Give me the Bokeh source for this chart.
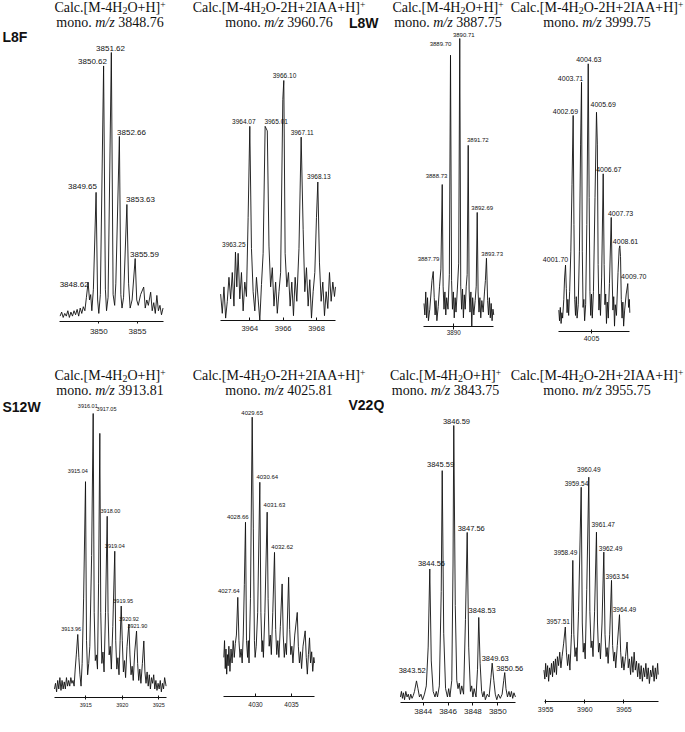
from bokeh.plotting import figure
from bokeh.layouts import column, row
from bokeh.models import Div, Range1d, FixedTicker
from bokeh.core.properties import value
from bokeh.embed import file_html
from bokeh.resources import INLINE

# ======================= DATA =======================
row_labels = ["L8F", "L8W", "S12W", "V22Q"]
ion_4h2o = "[M-4H2O+H]+"
ion_2iaa = "[M-4H2O-2H+2IAA+H]+"
title_ions = [ion_4h2o, ion_2iaa, ion_4h2o, ion_2iaa, ion_4h2o, ion_2iaa, ion_4h2o, ion_2iaa]
title_mono = ["3848.76", "3960.76", "3887.75", "3999.75", "3913.81", "4025.81", "3843.75", "3955.75"]

# --- Panel 1: L8F [M-4H2O+H]+ ---
p1_mz = [3845.0, 3845.2, 3845.4, 3845.6, 3845.8, 3846.0, 3846.2, 3846.4, 3846.6, 3846.8,
         3847.0, 3847.2, 3847.4, 3847.6, 3847.8, 3848.0, 3848.2, 3848.4, 3848.62, 3848.8,
         3848.95, 3849.1, 3849.3, 3849.65, 3849.85, 3850.0, 3850.2, 3850.62, 3850.85, 3851.0,
         3851.2, 3851.62, 3851.85, 3852.05, 3852.2, 3852.66, 3852.85, 3853.0, 3853.2, 3853.63,
         3853.85, 3854.05, 3854.3, 3854.7, 3854.9, 3855.1, 3855.4, 3855.8, 3856.0, 3856.2,
         3856.4, 3856.7, 3856.9, 3857.1, 3857.3, 3857.5, 3857.7, 3857.9, 3858.1, 3858.3]
p1_int = [2, 3.5, 1.5, 3, 2, 4, 1.5, 3.5, 2, 4,
          2.5, 4.5, 2, 5, 3, 5.5, 4, 9, 14.6, 8,
          10, 4, 12, 48, 8, 3, 10, 95, 12, 4,
          9, 100, 10, 6, 14, 68.8, 10, 5, 9, 43.5,
          14, 5, 8, 23.4, 8, 6, 10, 12.8, 5, 8,
          6, 10.9, 4, 7, 3, 9.7, 4, 6, 2.5, 5]
p1_peak_mz = [3848.62, 3849.65, 3850.62, 3851.62, 3852.66, 3853.63, 3854.7]
p1_peak_int = [14.6, 48, 95, 100, 68.8, 43.5, 23.4]
p1_peak_label = ["3848.62", "3849.65", "3850.62", "3851.62", "3852.66", "3853.63", "3855.59"]
p1_ticks = [3850, 3855]

# --- Panel 2: L8F [M-4H2O-2H+2IAA+H]+ ---
p2_mz = [3962.25, 3962.35, 3962.45, 3962.55, 3962.65, 3962.75, 3962.85, 3962.95, 3963.05, 3963.14,
         3963.22, 3963.3, 3963.4, 3963.5, 3963.6, 3963.7, 3963.8, 3963.9, 3964.0, 3964.1,
         3964.2, 3964.3, 3964.4, 3964.5, 3964.6, 3964.7, 3964.8, 3964.92, 3965.05, 3965.15,
         3965.25, 3965.35, 3965.45, 3965.55, 3965.65, 3965.75, 3965.85, 3965.98, 3966.04, 3966.12,
         3966.22, 3966.32, 3966.42, 3966.52, 3966.62, 3966.72, 3966.82, 3966.95, 3967.08, 3967.2,
         3967.3, 3967.4, 3967.5, 3967.6, 3967.7, 3967.8, 3967.9, 3968.0, 3968.08, 3968.18,
         3968.28, 3968.38, 3968.48, 3968.58, 3968.68, 3968.78, 3968.88, 3968.98, 3969.08, 3969.14]
p2_int = [11, 3, 14, 1, 8, 18, 9, 20, 6, 28.5,
          14, 28, 9, 20, 4, 16, 10, 43, 80.9, 30,
          12, 4, 18, 9, 0, 15, 28, 80.9, 79, 31,
          14, 22, 6, 16, 3, 12, 20, 92, 100, 28,
          14, 20, 6, 16, 2, 18, 8, 30, 76.4, 38,
          12, 22, 6, 17, 1, 12, 20, 43, 57.7, 24,
          8, 16, 2, 12, 5, 20, 8, 16, 10, 14]
p2_peak_mz = [3963.14, 3964.0, 3964.92, 3966.04, 3967.08, 3968.08]
p2_peak_int = [28.5, 80.9, 80.9, 100, 76.4, 57.7]
p2_peak_label = ["3963.25", "3964.07", "3965.01", "3966.10", "3967.11", "3968.13"]
p2_ticks = [3964, 3966, 3968]

# --- Panel 3: L8W [M-4H2O+H]+ ---
p3_mz = [3886.65, 3886.75, 3886.85, 3886.95, 3887.05, 3887.15, 3887.3, 3887.45, 3887.55, 3887.69,
         3887.8, 3887.9, 3888.0, 3888.1, 3888.25, 3888.4, 3888.55, 3888.70, 3888.8, 3888.9,
         3889.0, 3889.1, 3889.2, 3889.35, 3889.5, 3889.63, 3889.75, 3889.85, 3889.95, 3890.05,
         3890.15, 3890.25, 3890.4, 3890.55, 3890.67, 3890.78, 3890.88, 3890.98, 3891.08, 3891.18,
         3891.28, 3891.4, 3891.5, 3891.62, 3891.72, 3891.82, 3891.92, 3892.02, 3892.12, 3892.25,
         3892.4, 3892.52, 3892.63, 3892.73, 3892.83, 3892.93, 3893.03, 3893.15, 3893.3, 3893.45,
         3893.55, 3893.67, 3893.8, 3893.9, 3894.0, 3894.1, 3894.2, 3894.3, 3894.4, 3894.49]
p3_int = [8, 4, 12, 3, 10, 2, 6, 12, 16, 19.1,
          10, 4, 9, 2, 7, 14, 20, 49.3, 14, 6,
          12, 4, 10, 6, 18, 94.2, 16, 6, 12, 3,
          10, 5, 13, 22, 100, 14, 6, 13, 3, 11,
          6, 14, 18, 62.9, 13, 5, 12, 0, 10, 4,
          9, 14, 39.6, 12, 5, 10, 3, 9, 5, 12,
          16, 23.7, 9, 4, 10, 3, 8, 2, 6, 4]
p3_peak_mz = [3887.69, 3888.70, 3889.63, 3890.67, 3891.62, 3892.63, 3893.67]
p3_peak_int = [19.1, 49.3, 94.2, 100, 62.9, 39.6, 23.7]
p3_peak_label = ["3887.79", "3888.73", "3889.70", "3890.71", "3891.72", "3892.69", "3893.73"]
p3_ticks = [3890]

# --- Panel 4: L8W [M-4H2O-2H+2IAA+H]+ ---
p4_mz = [4000.81, 4000.9, 4001.0, 4001.1, 4001.2, 4001.3, 4001.45, 4001.55, 4001.67, 4001.77,
         4001.87, 4001.97, 4002.07, 4002.2, 4002.35, 4002.5, 4002.65, 4002.75, 4002.85, 4002.95,
         4003.05, 4003.15, 4003.3, 4003.45, 4003.6, 4003.72, 4003.82, 4003.92, 4004.02, 4004.12,
         4004.25, 4004.4, 4004.58, 4004.7, 4004.8, 4004.9, 4005.0, 4005.1, 4005.25, 4005.45,
         4005.64, 4005.75, 4005.85, 4005.95, 4006.05, 4006.15, 4006.3, 4006.5, 4006.62, 4006.72,
         4006.82, 4006.92, 4007.02, 4007.15, 4007.3, 4007.53, 4007.65, 4007.75, 4007.85, 4007.95,
         4008.05, 4008.2, 4008.4, 4008.55, 4008.63, 4008.72, 4008.82, 4008.92, 4009.02, 4009.12,
         4009.25, 4009.45, 4009.65, 4009.75, 4009.85, 4009.91]
p4_int = [8, 4, 9, 3, 7, 5, 12, 20, 24.8, 16,
          7, 12, 6, 15, 30, 55, 80.7, 40, 12, 6,
          13, 5, 10, 30, 70, 93.1, 30, 9, 12, 4,
          10, 40, 100, 50, 15, 6, 14, 5, 15, 50,
          81.9, 70, 25, 8, 14, 6, 20, 58.9, 25, 10,
          14, 3, 11, 5, 18, 42.6, 20, 8, 13, 2,
          10, 6, 22, 31, 32, 28, 12, 5, 11, 2,
          8, 14, 17.9, 9, 12, 7]
p4_peak_mz = [4001.67, 4002.65, 4003.72, 4004.58, 4005.64, 4006.5, 4007.53, 4008.63, 4009.65]
p4_peak_int = [24.8, 80.7, 93.1, 100, 81.9, 58.9, 42.6, 32, 17.9]
p4_peak_label = ["4001.70", "4002.69", "4003.71", "4004.63", "4005.69", "4006.67", "4007.73", "4008.61", "4009.70"]
p4_ticks = [4005]

# --- Panel 5: S12W [M-4H2O+H]+ ---
p5_mz = [3910.71, 3910.85, 3911.0, 3911.15, 3911.3, 3911.45, 3911.6, 3911.75, 3911.9, 3912.05,
         3912.2, 3912.35, 3912.5, 3912.65, 3912.8, 3912.95, 3913.1, 3913.25, 3913.4, 3913.55,
         3913.7, 3913.9, 3914.05, 3914.2, 3914.35, 3914.5, 3914.7, 3914.96, 3915.1, 3915.25,
         3915.4, 3915.55, 3915.8, 3916.01, 3916.15, 3916.3, 3916.45, 3916.6, 3916.75, 3916.92,
         3917.05, 3917.2, 3917.35, 3917.5, 3917.7, 3917.93, 3918.05, 3918.2, 3918.35, 3918.5,
         3918.7, 3918.97, 3919.1, 3919.25, 3919.4, 3919.55, 3919.7, 3919.85, 3920.0, 3920.15,
         3920.3, 3920.45, 3920.65, 3920.9, 3921.05, 3921.2, 3921.35, 3921.5, 3921.7, 3921.95,
         3922.1, 3922.25, 3922.4, 3922.55, 3922.75, 3922.95, 3923.1, 3923.25, 3923.4, 3923.55,
         3923.7, 3923.85, 3924.0, 3924.15, 3924.3, 3924.45, 3924.6, 3924.75, 3924.9, 3925.05,
         3925.2, 3925.35, 3925.5, 3925.65, 3925.8, 3926.0]
p5_int = [3, 5, 2, 6, 3, 7, 2.5, 6, 3, 5.5,
          3, 7, 4, 6, 4, 7, 5, 6, 4, 10,
          15, 22.2, 14, 8, 4, 12, 35, 76, 20, 8,
          12, 18, 50, 100, 30, 13, 15, 10, 40, 93,
          30, 12, 16, 9, 30, 63.8, 30, 15, 18, 10,
          25, 51.5, 20, 10, 14, 8, 20, 32.2, 20, 9,
          13, 7, 18, 25.8, 15, 8, 11, 6, 16, 23.4,
          12, 6, 10, 5, 12, 19.9, 9, 5, 9, 4,
          8, 3, 7, 5, 8, 3, 6, 2.5, 5, 3,
          6, 2, 5, 3, 7, 4]
p5_peak_mz = [3913.9, 3914.96, 3916.01, 3916.92, 3917.93, 3918.97, 3919.85, 3920.9, 3921.95]
p5_peak_int = [22.2, 76, 100, 93, 63.8, 51.5, 32.2, 25.8, 23.4]
p5_peak_label = ["3913.96", "3915.04", "3916.01", "3917.05", "3918.00", "3919.04", "3919.95", "3920.92", "3921.90"]
p5_ticks = [3915, 3920, 3925]

# --- Panel 6: S12W [M-4H2O-2H+2IAA+H]+ ---
p6_mz = [4025.6, 4025.7, 4025.8, 4025.9, 4026.0, 4026.1, 4026.2, 4026.3, 4026.45, 4026.6,
         4026.75, 4026.9, 4027.05, 4027.2, 4027.35, 4027.54, 4027.7, 4027.85, 4028.0, 4028.15,
         4028.3, 4028.45, 4028.61, 4028.75, 4028.9, 4029.0, 4029.1, 4029.3, 4029.54, 4029.7,
         4029.85, 4029.95, 4030.1, 4030.3, 4030.6, 4030.75, 4030.9, 4031.0, 4031.1, 4031.3,
         4031.62, 4031.75, 4031.9, 4032.05, 4032.2, 4032.4, 4032.64, 4032.8, 4032.95, 4033.1,
         4033.25, 4033.45, 4033.7, 4033.85, 4034.0, 4034.15, 4034.3, 4034.6, 4034.75, 4034.9,
         4035.05, 4035.2, 4035.45, 4035.8, 4035.95, 4036.1, 4036.25, 4036.4, 4036.6, 4036.9,
         4037.05, 4037.2, 4037.35, 4037.5, 4037.65, 4037.8, 4037.95, 4038.1, 4038.2]
p6_int = [14, 20, 10, 17, 8, 15, 11, 18, 9, 17,
          12, 20, 14, 19, 22, 35.5, 20, 14, 17, 12,
          22, 40, 62.4, 20, 14, 20, 12, 35, 100, 60,
          20, 14, 18, 30, 76.7, 30, 16, 20, 14, 30,
          66, 35, 18, 22, 15, 30, 51.6, 24, 15, 20,
          14, 25, 40.3, 22, 14, 19, 15, 42.7, 24, 15,
          18, 12, 22, 30.1, 18, 12, 16, 10, 18, 23.5,
          14, 8, 15, 21, 12, 16, 9, 14, 12]
p6_peak_mz = [4027.54, 4028.61, 4029.54, 4030.6, 4031.62, 4032.64]
p6_peak_int = [35.5, 62.4, 100, 76.7, 66, 51.6]
p6_peak_label = ["4027.64", "4028.66", "4029.65", "4030.64", "4031.63", "4032.62"]
p6_ticks = [4030, 4035]

# --- Panel 7: V22Q [M-4H2O+H]+ ---
p7_mz = [3842.17, 3842.25, 3842.33, 3842.41, 3842.5, 3842.6, 3842.7, 3842.8, 3842.9, 3843.0,
         3843.1, 3843.2, 3843.3, 3843.46, 3843.58, 3843.7, 3843.82, 3843.95, 3844.1, 3844.25,
         3844.4, 3844.53, 3844.65, 3844.8, 3844.95, 3845.05, 3845.15, 3845.3, 3845.45, 3845.53,
         3845.65, 3845.8, 3845.95, 3846.05, 3846.15, 3846.3, 3846.4, 3846.46, 3846.58, 3846.7,
         3846.8, 3846.9, 3847.0, 3847.1, 3847.25, 3847.4, 3847.54, 3847.66, 3847.8, 3847.9,
         3848.0, 3848.1, 3848.25, 3848.37, 3848.47, 3848.58, 3848.7, 3848.8, 3848.9, 3849.0,
         3849.15, 3849.3, 3849.45, 3849.55, 3849.68, 3849.8, 3849.92, 3850.05, 3850.2, 3850.35,
         3850.48, 3850.56, 3850.66, 3850.78, 3850.9, 3851.0, 3851.1, 3851.2, 3851.3, 3851.42]
p7_int = [2, 4, 1.5, 3.5, 1, 4, 2, 3, 1, 3,
          1.5, 2.5, 4, 7.8, 5, 2, 3, 1, 3, 6,
          20, 48.2, 15, 4, 2, 4, 2, 6, 40, 83.7,
          25, 5, 2, 5, 2, 8, 50, 100, 35, 8,
          5, 7, 3, 6, 3, 30, 61.4, 20, 4, 6,
          2, 5, 2, 12, 30.7, 14, 4, 2, 4, 1,
          3, 2, 9, 14.2, 8, 3, 1, 3, 1.5, 3,
          8, 10.8, 5, 2, 4, 2, 4, 1.5, 3.5, 2]
p7_peak_mz = [3843.46, 3844.53, 3845.53, 3846.46, 3847.54, 3848.47, 3849.55, 3850.56]
p7_peak_int = [7.8, 48.2, 83.7, 100, 61.4, 30.7, 14.2, 10.8]
p7_peak_label = ["3843.52", "3844.56", "3845.59", "3846.59", "3847.56", "3848.53", "3849.63", "3850.56"]
p7_ticks = [3844, 3846, 3848, 3850]

# --- Panel 8: V22Q [M-4H2O-2H+2IAA+H]+ ---
p8_mz = [3954.78, 3954.9, 3955.0, 3955.12, 3955.25, 3955.38, 3955.5, 3955.62, 3955.75, 3955.88,
         3956.0, 3956.12, 3956.25, 3956.38, 3956.5, 3956.65, 3956.8, 3956.95, 3957.1, 3957.3,
         3957.51, 3957.65, 3957.8, 3957.95, 3958.1, 3958.3, 3958.47, 3958.6, 3958.75, 3958.9,
         3959.0, 3959.2, 3959.54, 3959.68, 3959.8, 3959.92, 3960.05, 3960.25, 3960.51, 3960.65,
         3960.8, 3960.92, 3961.05, 3961.25, 3961.49, 3961.62, 3961.75, 3961.88, 3962.0, 3962.2,
         3962.43, 3962.58, 3962.72, 3962.85, 3962.98, 3963.18, 3963.41, 3963.55, 3963.7, 3963.82,
         3963.95, 3964.15, 3964.43, 3964.58, 3964.72, 3964.85, 3965.0, 3965.2, 3965.4, 3965.55,
         3965.7, 3965.85, 3966.0, 3966.15, 3966.3, 3966.45, 3966.6, 3966.75, 3966.9, 3967.05,
         3967.2, 3967.35, 3967.5, 3967.65, 3967.8, 3967.95, 3968.1, 3968.25, 3968.4, 3968.55,
         3968.7, 3968.85, 3969.0, 3969.15, 3969.3, 3969.38]
p8_int = [14, 10, 17, 11, 16, 9, 15, 12, 17, 11,
          18, 13, 19, 12, 20, 16, 22, 15, 20, 26,
          33.2, 22, 16, 21, 14, 30, 62.9, 30, 20, 24,
          18, 40, 95.5, 35, 22, 26, 19, 50, 100, 40,
          24, 27, 20, 40, 75.5, 35, 22, 26, 19, 35,
          66.6, 30, 20, 24, 17, 30, 54, 25, 18, 22,
          15, 25, 38.7, 22, 15, 20, 14, 20, 26.5, 15,
          19, 12, 20, 13, 22, 14, 18, 11, 17, 10,
          16, 9, 15, 11, 17, 10, 15, 8, 14, 11,
          16, 9, 15, 10, 17, 12]
p8_peak_mz = [3957.51, 3958.47, 3959.54, 3960.51, 3961.49, 3962.43, 3963.41, 3964.43]
p8_peak_int = [33.2, 62.9, 95.5, 100, 75.5, 66.6, 54, 38.7]
p8_peak_label = ["3957.51", "3958.49", "3959.54", "3960.49", "3961.47", "3962.49", "3963.54", "3964.49"]
p8_ticks = [3955, 3960, 3965]

# ======================= LAYOUT / STYLE =======================
PAGE_W = 685
ROW_TOP = {1: 30, 2: 398}     # figure-row tops (page px)
ROW_H = {1: 321, 2: 330}
INK = "#111111"
SANS = "Liberation Sans"

# label offsets (px) relative to peak apex: dx right, dy up
style = [
    dict(row=1, left=0, right=185, tmz=3850, tpx=98.3, ppm=7.74, axl=59.3, axr=163.3, axy=321, apex=52,
         lfs=8, tfs=8, tin=0, tout=2, stand=5,
         dx=[-14, -13.6, -11.1, -0.8, 12.1, 13.6, 9.3], dy=[-2, 6, 4, 4, 4, 5, 4]),
    dict(row=1, left=185, right=380, tmz=3964, tpx=249.3, ppm=16.67, axl=220, axr=335, axy=320, apex=80,
         lfs=6.5, tfs=7.5, tin=3, tout=0, stand=5,
         dx=[-1.7, -6, 11, 0.7, 1, 1], dy=[7.4, 5.3, 5.3, 5, 4.5, 5.7]),
    dict(row=1, left=380, right=515, tmz=3890, tpx=453.3, ppm=8.9, axl=423.3, axr=493.3, axy=326, apex=38,
         lfs=6, tfs=6.3, tin=3, tout=3, stand=0,
         dx=[-4.7, -5.7, -10, 4, 9.6, 5, 5.7], dy=[12, 9, 11.7, 4, 5, 4, 4.4]),
    dict(row=1, left=515, right=685, tmz=4005, tpx=591, ppm=7.8, axl=558.3, axr=629.3, axy=331, apex=63.3,
         lfs=7, tfs=7, tin=2, tout=2, stand=2,
         dx=[-10, -7.7, -11, 0.6, 6.7, 5.6, 9.3, 5.7, 6], dy=[6, 4, 4, 4, 7.7, 4, 4, 4, 6.7]),
    dict(row=2, left=0, right=185, tmz=3915, tpx=85.3, ppm=7.3, axl=54, axr=166, axy=697, apex=413,
         lfs=5.5, tfs=5.5, tin=2, tout=2, stand=3,
         dx=[-6.6, -7.7, -5.4, 6.7, 3.3, 0, 2, 0.1, 0.8], dy=[5, 10.7, 8, 24.4, 5, 5, 5, 5, 5]),
    dict(row=2, left=185, right=384, tmz=4030, tpx=255, ppm=7.2, axl=223.3, axr=314, axy=696, apex=416.7,
         lfs=6, tfs=6.5, tin=3, tout=0, stand=5,
         dx=[-9, -7.7, 0, 7.4, 7.3, 7.7], dy=[6.7, 5, 4, 5.7, 6.7, 5]),
    dict(row=2, left=384, right=527, tmz=3844, tpx=422.7, ppm=12.43, axl=400, axr=515, axy=702, apex=425,
         lfs=7.5, tfs=8, tin=0, tout=3, stand=3,
         dx=[-4.3, 1.7, -1.7, 2.7, 4, 3.4, 3, 5], dy=[10, 5, 5.7, 4.3, 4, 7.4, 4.6, 4.4]),
    dict(row=2, left=527, right=685, tmz=3960, tpx=584.3, ppm=7.83, axl=544, axr=658.3, axy=701, apex=476.7,
         lfs=6.5, tfs=7, tin=2, tout=2, stand=3,
         dx=[-7.1, -7.3, -4.7, 0, 6.7, 6.7, 5.7, 5], dy=[6, 8.3, 4, 7.4, 7.4, 4, 4, 5]),
]

data = [
    (p1_mz, p1_int, p1_peak_mz, p1_peak_int, p1_peak_label, p1_ticks),
    (p2_mz, p2_int, p2_peak_mz, p2_peak_int, p2_peak_label, p2_ticks),
    (p3_mz, p3_int, p3_peak_mz, p3_peak_int, p3_peak_label, p3_ticks),
    (p4_mz, p4_int, p4_peak_mz, p4_peak_int, p4_peak_label, p4_ticks),
    (p5_mz, p5_int, p5_peak_mz, p5_peak_int, p5_peak_label, p5_ticks),
    (p6_mz, p6_int, p6_peak_mz, p6_peak_int, p6_peak_label, p6_ticks),
    (p7_mz, p7_int, p7_peak_mz, p7_peak_int, p7_peak_label, p7_ticks),
    (p8_mz, p8_int, p8_peak_mz, p8_peak_int, p8_peak_label, p8_ticks),
]

# row labels drawn inside figures: panel index -> (text, page x, page y)
fig_row_labels = {0: (row_labels[0], 2, 36), 4: (row_labels[2], 2, 406), 5: (row_labels[3], 348, 404)}


def make_panel(i):
    mz, it, pk_mz, pk_int, pk_lab, ticks = data[i]
    c = style[i]
    assert len(mz) == len(it), i
    top = ROW_TOP[c["row"]]
    H = ROW_H[c["row"]]
    W = c["right"] - c["left"]
    frame_h = c["axy"] - top
    ppm = c["ppm"]
    s = (c["axy"] - c["apex"]) / 100.0

    def mz_at(px):
        return c["tmz"] + (px - c["tpx"]) / ppm

    def int_at(py):
        return (c["axy"] - py) / s

    p = figure(width=W, height=H, output_backend="svg", toolbar_location=None, tools="",
               x_range=Range1d(mz_at(c["left"]), mz_at(c["right"])),
               y_range=Range1d(0, frame_h / s),
               min_border_left=0, min_border_right=0, min_border_top=0,
               min_border_bottom=H - frame_h, y_axis_location=None,
               outline_line_color=None, background_fill_color="white",
               border_fill_color="white", frame_align=False)
    p.grid.visible = False
    p.line(mz, it, line_color=INK, line_width=0.9)

    lx = [m + d / ppm for m, d in zip(pk_mz, c["dx"])]
    ly = [v + d / s for v, d in zip(pk_int, c["dy"])]
    p.text(x=lx, y=ly, text=pk_lab, text_font=value(SANS),
           text_font_size=value(f"{c['lfs']}px"), text_align="center",
           text_baseline="middle", text_color=INK)

    if i in fig_row_labels:
        lab, rx, ry = fig_row_labels[i]
        p.text(x=[mz_at(rx)], y=[int_at(ry)], text=[lab], text_font=value(SANS),
               text_font_size=value("14px"), text_font_style="bold",
               text_align="left", text_baseline="middle", text_color=INK)

    ax = p.xaxis[0]
    ax.ticker = FixedTicker(ticks=ticks)
    ax.bounds = (mz_at(c["axl"]), mz_at(c["axr"]))
    ax.axis_line_color = INK
    ax.axis_line_width = 1
    ax.major_tick_line_color = INK
    ax.major_tick_in = c["tin"]
    ax.major_tick_out = c["tout"]
    ax.minor_tick_line_color = None
    ax.major_label_text_font = SANS
    ax.major_label_text_font_size = f"{c['tfs']}px"
    ax.major_label_text_color = "#222222"
    ax.major_label_standoff = c["stand"]
    return p


SUB = "<span style='font-size:10px;position:relative;top:2px'>2</span>"
SUP = "<span style='font-size:9.5px;position:relative;top:-4px'>+</span>"


def ion_html(ion):
    return "Calc." + ion[:-1].replace("H2O", "H" + SUB + "O") + SUP


def line_box(cx, top, html):
    return ("<div style='position:absolute;left:%.1fpx;top:%dpx;width:180px;text-align:center;"
            "white-space:nowrap;line-height:14px;height:14px'>%s</div>" % (cx - 90, top, html))


def label_box(x, top, text):
    return ("<div style='position:absolute;left:%dpx;top:%dpx;line-height:14px;white-space:nowrap;"
            "font-family:Liberation Sans,Arial,sans-serif;font-weight:bold;font-size:14px'>%s</div>"
            % (x, top, text))


def title_div(idxs, centers, t1, t2, height, extra=""):
    parts = []
    for k, cx in zip(idxs, centers):
        parts.append(line_box(cx, t1, ion_html(title_ions[k])))
        parts.append(line_box(cx, t2, "mono. <i>m/z</i> " + title_mono[k]))
    html = ("<div style='position:relative;width:%dpx;height:%dpx;overflow:hidden;"
            "font-family:Liberation Serif,Times New Roman,serif;font-size:14px;color:#111'>%s%s</div>"
            % (PAGE_W, height, "".join(parts), extra))
    return Div(text=html, width=PAGE_W, height=height, margin=0)


top_div = title_div([0, 1, 2, 3], [110, 279, 448, 597], 1, 16, 30,
                    label_box(349, 16, row_labels[1]))
bot_div = title_div([4, 5, 6, 7], [110, 279, 445.5, 597], 18, 33, 47)

figs = [make_panel(i) for i in range(8)]
layout = column(top_div, row(*figs[:4]), bot_div, row(*figs[4:]))

open("out.html", "w").write(file_html(layout, INLINE))
